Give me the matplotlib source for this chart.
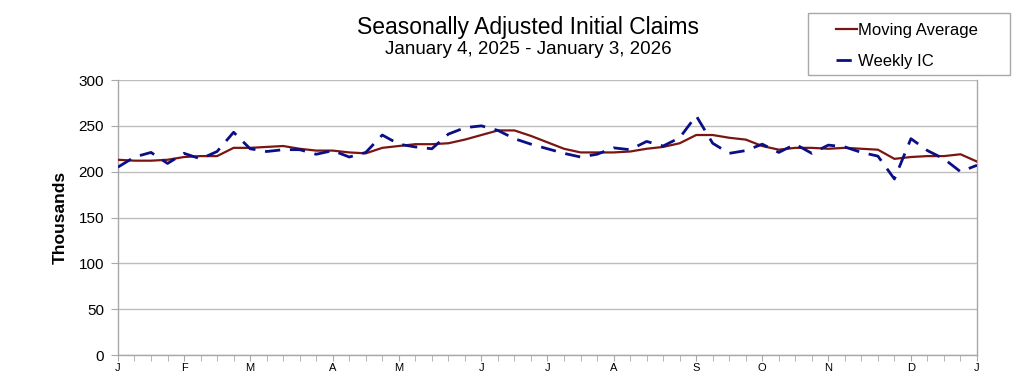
import matplotlib
matplotlib.use('Agg')
import matplotlib.pyplot as plt
from matplotlib.patches import Rectangle
from matplotlib.ticker import FixedLocator

plt.rcParams['font.family'] = ['Liberation Sans', 'DejaVu Sans']

# week index 0 = Jan 4, 2025 ... 52 = Jan 3, 2026
weekly_ic = [205, 216, 221, 209, 220, 214, 222, 243, 225, 222, 224,
             224, 219, 223, 216, 221, 240, 230, 227, 225, 241,
             248, 250, 245, 236, 230, 225, 220, 216, 219, 226,
             224, 233, 228, 237, 261, 231, 220, 223, 230, 221,
             230, 220, 229, 227, 221, 217, 192, 236, 223, 214,
             200, 207]
moving_avg = [213, 212, 212, 213, 216, 217, 217, 226, 226, 227, 228,
              225, 223, 223, 221, 220, 226, 228, 230, 230, 231,
              235, 240, 245, 245, 239, 232, 225, 221, 221, 221,
              222, 225, 227, 231, 240, 240, 237, 235, 228, 224,
              226, 226, 225, 226, 225, 224, 214, 216, 217, 217,
              219, 211]
month_weeks = [0, 4, 8, 13, 17, 22, 26, 30, 35, 39, 43, 48, 52]
month_labels = ['J', 'F', 'M', 'A', 'M', 'J', 'J', 'A', 'S', 'O', 'N', 'D', 'J']

fig = plt.figure(figsize=(10.33, 3.86), dpi=100)
ax = fig.add_axes([0.1142, 0.0803, 0.8316, 0.7124])

weeks = list(range(len(weekly_ic)))
ax.plot(weeks, moving_avg, color='#7a1512', lw=1.6, label='Moving Average', zorder=3)
ax.plot(weeks, weekly_ic, color='#0a0f85', lw=2.0, ls=(0, (5.5, 3.5)), label='Weekly IC', zorder=4)

ax.set_xlim(0, 52)
ax.set_ylim(0, 300)
ax.set_yticks(range(0, 301, 50))
ax.grid(axis='y', color='#bdbdbd', lw=1.0)
ax.set_axisbelow(True)
ax.spines['top'].set_visible(False)
for s in ['left', 'right', 'bottom']:
    ax.spines[s].set_color('#a8a8a8')
    ax.spines[s].set_linewidth(1.0)

ax.xaxis.set_major_locator(FixedLocator(month_weeks))
ax.set_xticklabels(month_labels, family=['Liberation Sans Narrow', 'Liberation Sans'], fontsize=8)
ax.xaxis.set_minor_locator(FixedLocator(weeks))
ax.tick_params(axis='x', which='both', direction='out', length=4, color='#a8a8a8', pad=2)
ax.tick_params(axis='y', direction='out', length=5, color='#a8a8a8', labelsize=11, pad=5)

ax.set_ylabel('Thousands', fontsize=12.5, fontweight='bold', labelpad=8)

fig.text(0.511, 0.93, 'Seasonally Adjusted Initial Claims', ha='center', va='center', fontsize=16.5)
fig.text(0.511, 0.871, 'January 4, 2025 - January 3, 2026', ha='center', va='center', fontsize=13.5)

# legend box drawn separately so the padding matches the original
fig.add_artist(Rectangle((0.7822, 0.8057), 0.1955, 0.1606, transform=fig.transFigure,
                         fill=False, edgecolor='#a8a8a8', lw=1.0))
leg = fig.legend(loc='upper left', bbox_to_anchor=(0.809, 0.94), fontsize=12,
                 frameon=False, handlelength=1.3, handletextpad=0.05,
                 borderpad=0, labelspacing=0.95, borderaxespad=0)

fig.savefig('out.png', dpi=100)
